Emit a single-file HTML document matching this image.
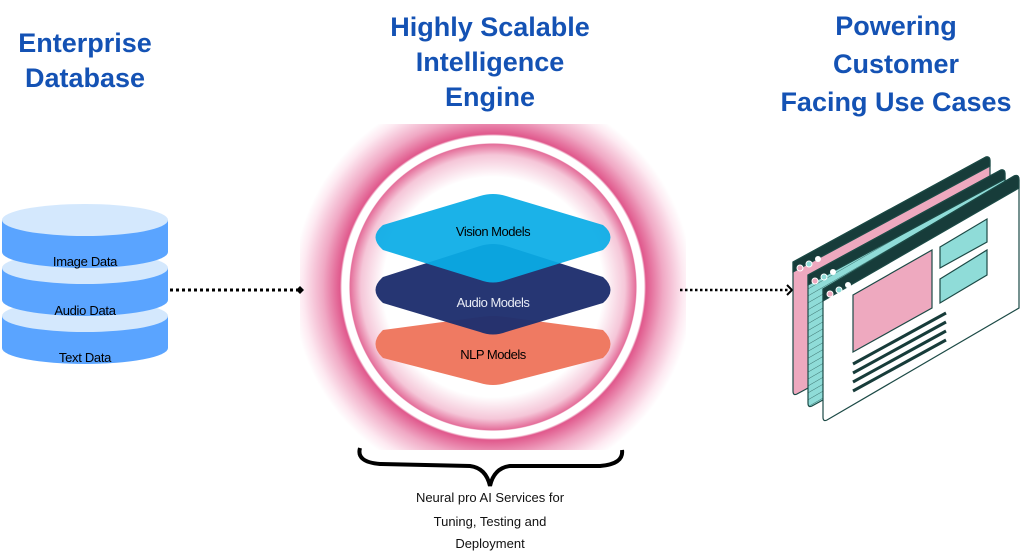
<!DOCTYPE html>
<html><head><meta charset="utf-8"><style>
body{margin:0;width:1024px;height:559px;background:#fff;overflow:hidden;position:relative;font-family:"Liberation Sans",sans-serif}
.t{position:absolute;color:#1452b4;font-weight:bold;font-size:27px;text-align:center;line-height:35px}
</style></head><body>
<svg width="1024" height="559" style="position:absolute;left:0;top:0">
<defs>
<radialGradient id="g" cx="493" cy="287" r="200" gradientUnits="userSpaceOnUse">
<stop offset="0" stop-color="#fff"/>
<stop offset="0.55" stop-color="#fff"/>
<stop offset="0.66" stop-color="#f5c6d8"/>
<stop offset="0.715" stop-color="#e46e9a"/>
<stop offset="0.72" stop-color="#fff"/>
<stop offset="0.755" stop-color="#fff"/>
<stop offset="0.765" stop-color="#e0588c"/>
<stop offset="0.85" stop-color="#f0a8c4"/>
<stop offset="0.95" stop-color="#fde9f1"/>
<stop offset="1" stop-color="#fff"/>
</radialGradient>
<pattern id="h" width="6" height="6" patternUnits="userSpaceOnUse" patternTransform="rotate(-30)"><rect width="6" height="6" fill="#8fdcd8"/><line x1="0" y1="0" x2="6" y2="0" stroke="#1c4a46" stroke-width="0.7"/></pattern>
</defs>
<rect x="300" y="124" width="386" height="326" fill="url(#g)"/>
<path d="M383,330 L480,317 Q493,315 506,317 L603,330 Q618,344 603,358 L506,383 Q493,387 480,383 L383,358 Q368,344 383,330Z" fill="#ef7a62"/>
<path d="M383,277 L480,246 Q493,242 506,246 L603,277 Q618,290 603,303 L506,332 Q493,337 480,332 L383,303 Q368,290 383,277Z" fill="#1f2f6e" opacity="0.97"/>
<path d="M383,225 L480,196 Q493,192 506,196 L603,225 Q618,237 603,250 L506,280 Q493,285 480,280 L383,250 Q368,237 383,225Z" fill="#0aace6" opacity="0.93"/>
<g font-size="13" text-anchor="middle" letter-spacing="-0.5">
<text x="493" y="236">Vision Models</text>
<text x="493" y="307" fill="#e8ecf6">Audio Models</text>
<text x="493" y="359">NLP Models</text>
</g>
<g>
<path d="M2,316 v32 a83,16 0 0 0 166,0 v-32z" fill="#5aa4ff"/>
<ellipse cx="85" cy="316" rx="83" ry="16" fill="#d4e8fd"/>
<path d="M2,268 v32 a83,16 0 0 0 166,0 v-32z" fill="#5aa4ff"/>
<ellipse cx="85" cy="268" rx="83" ry="16" fill="#d4e8fd"/>
<path d="M2,220 v32 a83,16 0 0 0 166,0 v-32z" fill="#5aa4ff"/>
<ellipse cx="85" cy="220" rx="83" ry="16" fill="#d4e8fd"/>
</g>
<g font-size="13" text-anchor="middle" letter-spacing="-0.3">
<text x="85" y="266">Image Data</text>
<text x="85" y="315">Audio Data</text>
<text x="85" y="362">Text Data</text>
</g>
<line x1="170" y1="290" x2="300" y2="290" stroke="#000" stroke-width="3" stroke-dasharray="3,3"/>
<path d="M300,286 l4,4 -4,4 -4,-4z" fill="#000"/>
<line x1="680" y1="290" x2="790" y2="290" stroke="#000" stroke-width="2.5" stroke-dasharray="2.5,2.5"/>
<path d="M787,285 l5,5 -5,5" fill="none" stroke="#000" stroke-width="2"/>
<g stroke="#1c4a46" stroke-width="1.2">
<path d="M793,262 L986,157 Q990,156 990,161 L990,290 L797,394 Q793,396 793,391Z" fill="#eea9bf"/>
<path d="M793,262 L986,157 Q990,156 990,161 L990,166 L793,272Z" fill="#173c3a"/>
<path d="M808,275 L1001,170 Q1005,169 1005,174 L1005,300 L812,406 Q808,408 808,403Z" fill="url(#h)"/>
<path d="M808,275 L1001,170 Q1005,169 1005,174 L1005,179 L808,285Z" fill="#173c3a"/>
<path d="M823,289 L1014,176 Q1019,174 1019,180 L1019,308 L827,420 Q823,422 823,417Z" fill="#fff"/>
<path d="M823,289 L1014,176 Q1019,174 1019,180 L1019,188 L823,301Z" fill="#173c3a"/>
<path d="M853,295 L932,250 L932,308 L853,352Z" fill="#eea9bf"/>
<path d="M940,247 L987,219 L987,242 L940,268Z" fill="#8fdcd8"/>
<path d="M940,279 L987,250 L987,275 L940,303Z" fill="#8fdcd8"/>
</g>
<g fill="#eea9bf" stroke="#fff" stroke-width="1"><circle cx="800" cy="268" r="3"/><circle cx="815" cy="281" r="3"/><circle cx="830" cy="294" r="3"/></g>
<g fill="#8fdcd8" stroke="#fff" stroke-width="1"><circle cx="809" cy="264" r="3"/><circle cx="824" cy="277" r="3"/><circle cx="839" cy="290" r="3"/></g>
<g fill="#fff"><circle cx="818" cy="259" r="3"/><circle cx="833" cy="272" r="3"/><circle cx="848" cy="285" r="3"/></g>
<g stroke="#173c3a" stroke-width="3">
<line x1="853" y1="364" x2="946" y2="313"/><line x1="853" y1="373" x2="946" y2="322"/><line x1="853" y1="382" x2="946" y2="331"/><line x1="853" y1="391" x2="946" y2="340"/>
</g>
<path d="M360,448 Q356,462 380,464 L470,466 Q486,468 490,486 Q494,468 510,466 L600,466 Q624,464 622,450" fill="none" stroke="#000" stroke-width="4"/>
<g font-size="13" text-anchor="middle" fill="#111">
<text x="490" y="502">Neural pro AI Services for</text>
<text x="490" y="526">Tuning, Testing and</text>
<text x="490" y="548">Deployment</text>
</g>
</svg>
<div class="t" style="left:-10px;width:190px;top:26px">Enterprise<br>Database</div>
<div class="t" style="left:340px;width:300px;top:10px">Highly Scalable<br>Intelligence<br>Engine</div>
<div class="t" style="left:746px;width:300px;top:7px;line-height:38px">Powering<br>Customer<br>Facing Use Cases</div>
</body></html>
